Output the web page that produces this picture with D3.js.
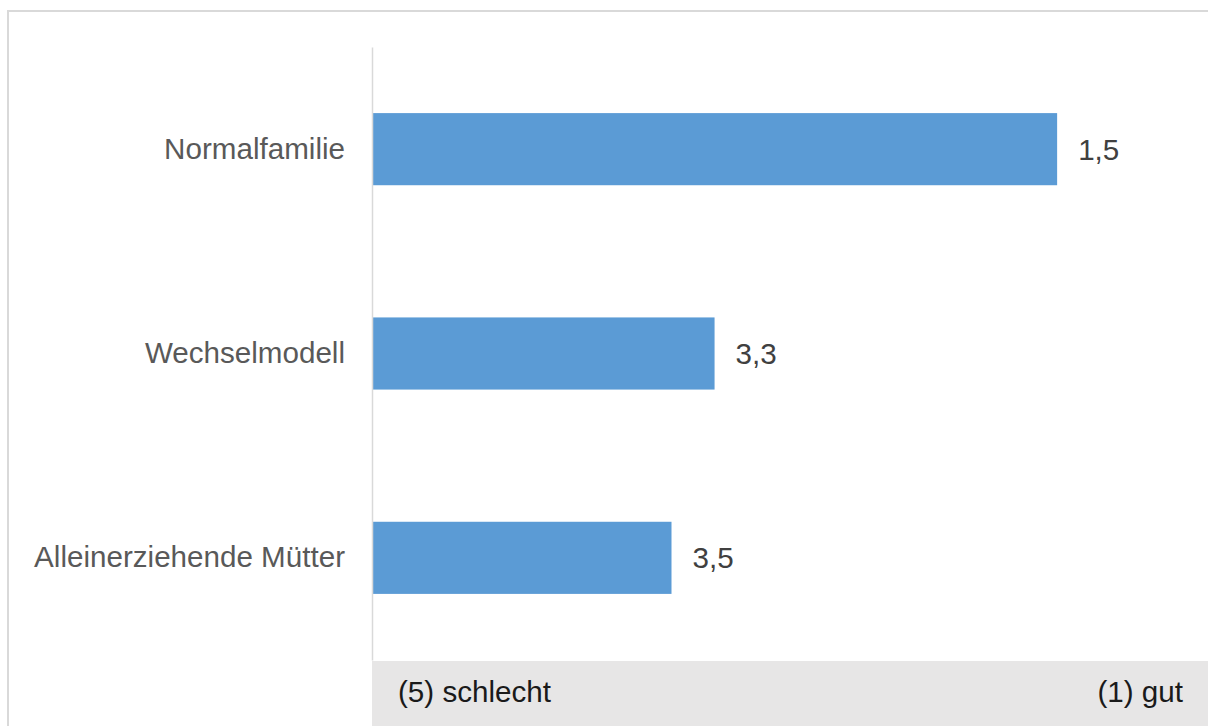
<!DOCTYPE html>
<html>
<head>
<meta charset="utf-8">
<script src="https://cdn.jsdelivr.net/npm/d3@7"></script>
<style>
    html, body { margin: 0; padding: 0; background: #fff; }
    svg { display: block; font-family: "Liberation Sans", Arial, sans-serif; }
</style>
</head>
<body>
<svg id="chart" width="1208" height="726"></svg>
<script>
// ratings, 1 = good ... 5 = bad (axis runs from 5 on the left to 1 on the right)
const categories = ['Normalfamilie', 'Wechselmodell', 'Alleinerziehende Mütter'];
const values = [1.5, 3.25, 3.47];
const scaleDomain = [5, 1];
const scaleLabels = ['(5) schlecht', '(1) gut'];

const de = d3.formatLocale({decimal: ',', thousands: '.', grouping: [3], currency: ['', ' €']});
const formatter = de.format('.1f');

const width = 1208;
const height = 726;
const margin = {top: 47, left: 372, bottom: 66};
const fontSize = 29.6;

const svg = d3.select('#chart');

// outer frame (cut off at right and bottom like the source)
svg.append('rect')
    .attr('x', 8)
    .attr('y', 11)
    .attr('width', width + 20)
    .attr('height', height + 20)
    .attr('fill', 'none')
    .attr('stroke', '#d9d9d9')
    .attr('stroke-width', 2);

const x = d3.scaleLinear()
    .domain(scaleDomain)
    .range([margin.left, 1155]);

const y = d3.scaleBand()
    .domain(categories)
    .range([margin.top, height - margin.bottom])
    .paddingInner(0.647)
    .paddingOuter(0.3235);

// bars grow from the "5" side towards the value
svg.selectAll('.bar')
    .data(values)
    .enter()
    .append('rect')
    .attr('class', 'bar')
    .attr('x', x(scaleDomain[0]))
    .attr('y', (d, i) => y(categories[i]))
    .attr('width', d => x(d) - x(scaleDomain[0]))
    .attr('height', y.bandwidth())
    .attr('fill', '#5b9bd5');

// value labels
svg.selectAll('.value')
    .data(values)
    .enter()
    .append('text')
    .attr('class', 'value')
    .attr('x', d => x(d) + 21)
    .attr('y', (d, i) => y(categories[i]) + y.bandwidth() / 2)
    .attr('dy', '0.36em')
    .attr('font-size', fontSize)
    .attr('fill', '#404040')
    .text(d => formatter(d));

// category axis
const axis = svg.append('g')
    .attr('transform', 'translate(' + margin.left + ',0)')
    .call(d3.axisLeft(y).tickSize(0).tickSizeOuter(0).tickPadding(27));

axis.select('.domain')
    .attr('stroke', '#d9d9d9')
    .attr('stroke-width', 1.5);

axis.selectAll('.tick text')
    .attr('font-size', fontSize)
    .attr('font-family', '"Liberation Sans", Arial, sans-serif')
    .attr('fill', '#595959');

// scale caption strip
const stripTop = height - margin.bottom + 1;
svg.append('rect')
    .attr('x', x(scaleDomain[0]))
    .attr('y', stripTop)
    .attr('width', width - x(scaleDomain[0]))
    .attr('height', height - stripTop)
    .attr('fill', '#e7e6e6');

svg.selectAll('.scale-label')
    .data(scaleLabels)
    .enter()
    .append('text')
    .attr('class', 'scale-label')
    .attr('x', (d, i) => i === 0 ? x(scaleDomain[0]) + 26 : 1183)
    .attr('y', 702)
    .attr('text-anchor', (d, i) => i === 0 ? 'start' : 'end')
    .attr('font-size', fontSize)
    .attr('fill', '#1a1a1a')
    .text(d => d);
</script>
</body>
</html>
